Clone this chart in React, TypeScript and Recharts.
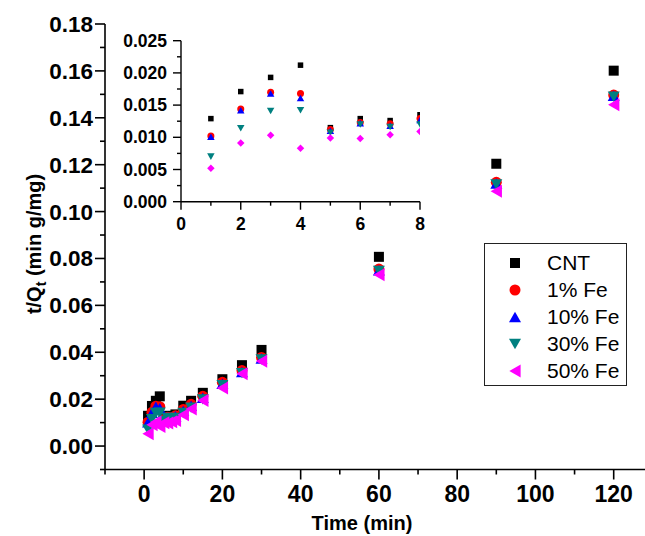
import React from "react";
import { ScatterChart, Scatter, XAxis, YAxis, Legend } from "recharts";

// sampling times (min) and t/Qt values (min g/mg) per sample
const times = [1, 2, 3, 4, 5, 6, 7, 8, 10, 12, 15, 20, 25, 30, 60, 90, 120];
const cnt = [0.0129, 0.0171, 0.0193, 0.0212, 0.0115, 0.0129, 0.0126, 0.0135, 0.0172, 0.0193, 0.0227, 0.0285, 0.0345, 0.041, 0.0807, 0.1204, 0.1601];
const fe1 = [0.0102, 0.0144, 0.017, 0.0168, 0.0112, 0.0123, 0.0121, 0.0129, 0.0156, 0.0178, 0.0212, 0.0272, 0.0322, 0.0378, 0.0755, 0.1125, 0.1497];
const fe10 = [0.0101, 0.0142, 0.0168, 0.0161, 0.011, 0.0122, 0.0118, 0.0127, 0.015, 0.0172, 0.0206, 0.0266, 0.0316, 0.0373, 0.075, 0.112, 0.1494];
const fe30 = [0.007, 0.0114, 0.0141, 0.0142, 0.0107, 0.012, 0.0116, 0.012, 0.0141, 0.0164, 0.0199, 0.0259, 0.0311, 0.0369, 0.0747, 0.1116, 0.149];
const fe50 = [0.0052, 0.0091, 0.0103, 0.0083, 0.0099, 0.0098, 0.0104, 0.0109, 0.0133, 0.0158, 0.0194, 0.0248, 0.0308, 0.0362, 0.0731, 0.1087, 0.1456];

const seriesNames = ["CNT", "1% Fe", "10% Fe", "30% Fe", "50% Fe"];
const seriesValues = [cnt, fe1, fe10, fe30, fe50];

const xTicks = [-10, 0, 10, 20, 30, 40, 50, 60, 70, 80, 90, 100, 110, 120];
const yTicks = [-0.01, 0, 0.01, 0.02, 0.03, 0.04, 0.05, 0.06, 0.07, 0.08, 0.09, 0.1, 0.11, 0.12, 0.13, 0.14, 0.15, 0.16, 0.17, 0.18];
const insetXTicks = [0, 1, 2, 3, 4, 5, 6, 7, 8];
const insetYTicks = [0, 0.0025, 0.005, 0.0075, 0.01, 0.0125, 0.015, 0.0175, 0.02, 0.0225, 0.025];
const insetCount = 8;

const FONT = "'Liberation Sans', Arial, Helvetica, sans-serif";
const colors = ["#000000", "#ff0000", "#0000ff", "#008080", "#ff00ff"];
const mainShapes = ["square", "circle", "up", "down", "left"];
const insetShapes = ["square", "circle", "up", "down", "diamond"];
const mainSizes = [10, 11, 12, 12, 13];
const insetSizes = [5.5, 7, 7.5, 7.5, 7.5];

function Marker({ cx, cy, kind, s, fill }: any) {
  if (cx == null || cy == null) return null;
  const h = s * 0.87;
  switch (kind) {
    case "square":
      return <rect x={cx - s / 2} y={cy - s / 2} width={s} height={s} fill={fill} />;
    case "circle":
      return <circle cx={cx} cy={cy} r={s / 2} fill={fill} />;
    case "up":
      return <polygon points={`${cx},${cy - h / 2} ${cx - s / 2},${cy + h / 2} ${cx + s / 2},${cy + h / 2}`} fill={fill} />;
    case "down":
      return <polygon points={`${cx},${cy + h / 2} ${cx - s / 2},${cy - h / 2} ${cx + s / 2},${cy - h / 2}`} fill={fill} />;
    case "left":
      return <polygon points={`${cx - h / 2},${cy} ${cx + h / 2},${cy - s / 2} ${cx + h / 2},${cy + s / 2}`} fill={fill} />;
    default:
      return <polygon points={`${cx},${cy - s / 2} ${cx + s / 2},${cy} ${cx},${cy + s / 2} ${cx - s / 2},${cy}`} fill={fill} />;
  }
}

function XTick({ x, y, payload }: any) {
  const major = payload.value % 20 === 0;
  return (
    <g>
      <line x1={x} y1={y} x2={x} y2={y + (major ? 10 : 5)} stroke="#000" strokeWidth={1.6} />
      {major && (
        <text x={x} y={y + 32} textAnchor="middle" fontSize={23} fontWeight="bold" fontFamily={FONT} fill="#000">
          {payload.value}
        </text>
      )}
    </g>
  );
}

function TopTick({ x, y }: any) {
  return <line x1={x} y1={y} x2={x} y2={y + 5} stroke="#000" strokeWidth={1.2} />;
}

function YTick({ x, y, payload }: any) {
  const major = Math.round(payload.value * 100) % 2 === 0;
  return (
    <g>
      <line x1={x} y1={y} x2={x - (major ? 10 : 5)} y2={y} stroke="#000" strokeWidth={1.6} />
      {major && (
        <text x={x - 12} y={y + 8} textAnchor="end" fontSize={22.5} fontWeight="bold" fontFamily={FONT} fill="#000">
          {payload.value.toFixed(2)}
        </text>
      )}
    </g>
  );
}

function InsetXTick({ x, y, payload }: any) {
  const major = payload.value % 2 === 0;
  return (
    <g>
      <line x1={x} y1={y} x2={x} y2={y + (major ? 8 : 4)} stroke="#000" strokeWidth={1.4} />
      {major && (
        <text x={x} y={y + 28} textAnchor="middle" fontSize={17.5} fontWeight="bold" fontFamily={FONT} fill="#000">
          {payload.value}
        </text>
      )}
    </g>
  );
}

function InsetYTick({ x, y, payload }: any) {
  const major = Math.round(payload.value * 10000) % 50 === 0;
  return (
    <g>
      <line x1={x} y1={y} x2={x - (major ? 8 : 4)} y2={y} stroke="#000" strokeWidth={1.4} />
      {major && (
        <text x={x - 14} y={y + 6} textAnchor="end" fontSize={17.5} fontWeight="bold" fontFamily={FONT} fill="#000">
          {payload.value.toFixed(3)}
        </text>
      )}
    </g>
  );
}

function XTitle() {
  return (
    <text x={362} y={530} textAnchor="middle" fontSize={20} fontWeight="bold" fontFamily={FONT} fill="#000">
      Time (min)
    </text>
  );
}

function YTitle() {
  return (
    <text transform="translate(41,244) rotate(-90)" textAnchor="middle" fontSize={20} fontWeight="bold" fontFamily={FONT} fill="#000">
      t/Q<tspan dy={5} fontSize={14}>t</tspan>
      <tspan dy={-5}> (min g/mg)</tspan>
    </text>
  );
}

function LegendBox() {
  return (
    <div
      style={{
        position: "relative",
        width: 143,
        height: 143,
        border: "1.5px solid #222",
        boxSizing: "border-box",
        background: "#fff",
        fontFamily: FONT,
        fontSize: 21,
        color: "#000",
      }}
    >
      {seriesNames.map((name, i) => (
        <div key={name} style={{ position: "absolute", left: 0, top: 5 + i * 27, height: 27, width: 140 }}>
          <svg width={20} height={20} style={{ position: "absolute", left: 20, top: 4 }}>
            <Marker cx={10} cy={10} kind={mainShapes[i]} s={mainSizes[i]} fill={colors[i]} />
          </svg>
          <span style={{ position: "absolute", left: 62, top: 2, lineHeight: "24px" }}>{name}</span>
        </div>
      ))}
    </div>
  );
}

const mainData = seriesValues.map((vals) => times.map((t, i) => ({ t, v: vals[i] })));
const insetData = seriesValues.map((vals) => times.slice(0, insetCount).map((t, i) => ({ t, v: vals[i] })));

export default function App() {
  return (
    <div style={{ position: "absolute", left: 0, top: 0, width: 645, height: 536, background: "#fff", overflow: "hidden" }}>
      <ScatterChart width={645} height={536} margin={{ top: 24, right: 0, bottom: 0, left: 0 }}>
        <XAxis
          xAxisId="b"
          type="number"
          dataKey="t"
          domain={[-10, 128]}
          allowDataOverflow
          ticks={xTicks}
          interval={0}
          height={66.5}
          tickSize={0}
          tickMargin={0}
          tickLine={false}
          tick={<XTick />}
          axisLine={{ stroke: "#000", strokeWidth: 1.6 }}
          label={<XTitle />}
        />
        <XAxis
          xAxisId="top"
          orientation="top"
          type="number"
          domain={[-10, 128]}
          allowDataOverflow
          ticks={xTicks}
          interval={0}
          height={0}
          tickSize={0}
          tickMargin={0}
          tickLine={false}
          tick={<TopTick />}
          axisLine={{ stroke: "#000", strokeWidth: 1.4 }}
        />
        <YAxis
          yAxisId="l"
          type="number"
          dataKey="v"
          domain={[-0.01, 0.18]}
          allowDataOverflow
          ticks={yTicks}
          interval={0}
          width={105}
          tickSize={0}
          tickMargin={0}
          tickLine={false}
          tick={<YTick />}
          axisLine={{ stroke: "#000", strokeWidth: 1.6 }}
          label={<YTitle />}
        />
        <Legend
          layout="vertical"
          align="center"
          verticalAlign="middle"
          content={<LegendBox />}
          wrapperStyle={{ position: "absolute", left: 484, top: 243, width: 143, height: 143 }}
        />
        {seriesNames.map((name, i) => (
          <Scatter
            key={name}
            name={name}
            xAxisId="b"
            yAxisId="l"
            data={mainData[i]}
            fill={colors[i]}
            isAnimationActive={false}
            shape={(p: any) => <Marker cx={p.cx} cy={p.cy} kind={mainShapes[i]} s={mainSizes[i]} fill={colors[i]} />}
          />
        ))}
      </ScatterChart>

      <div style={{ position: "absolute", left: 100, top: 20 }}>
        <ScatterChart width={340} height={225} margin={{ top: 20.7, right: 20, bottom: 0, left: 0 }}>
          <XAxis
            xAxisId="b"
            type="number"
            dataKey="t"
            domain={[0, 8]}
            allowDataOverflow
            ticks={insetXTicks}
            interval={0}
            height={43.3}
            tickSize={0}
            tickMargin={0}
            tickLine={false}
            tick={<InsetXTick />}
            axisLine={{ stroke: "#000", strokeWidth: 1.4 }}
          />
          <XAxis xAxisId="top" orientation="top" type="number" domain={[0, 8]} height={0} tick={false} tickLine={false} axisLine={{ stroke: "#000", strokeWidth: 1.2 }} />
          <YAxis
            yAxisId="l"
            type="number"
            dataKey="v"
            domain={[0, 0.025]}
            allowDataOverflow
            ticks={insetYTicks}
            interval={0}
            width={81}
            tickSize={0}
            tickMargin={0}
            tickLine={false}
            tick={<InsetYTick />}
            axisLine={{ stroke: "#000", strokeWidth: 1.4 }}
          />
          <YAxis yAxisId="r" orientation="right" type="number" domain={[0, 0.025]} width={0} tick={false} tickLine={false} axisLine={{ stroke: "#000", strokeWidth: 1.2 }} />
          {seriesNames.map((name, i) => (
            <Scatter
              key={name}
              name={name}
              xAxisId="b"
              yAxisId="l"
              data={insetData[i]}
              fill={colors[i]}
              isAnimationActive={false}
              shape={(p: any) => <Marker cx={p.cx} cy={p.cy} kind={insetShapes[i]} s={insetSizes[i]} fill={colors[i]} />}
            />
          ))}
        </ScatterChart>
      </div>
    </div>
  );
}
